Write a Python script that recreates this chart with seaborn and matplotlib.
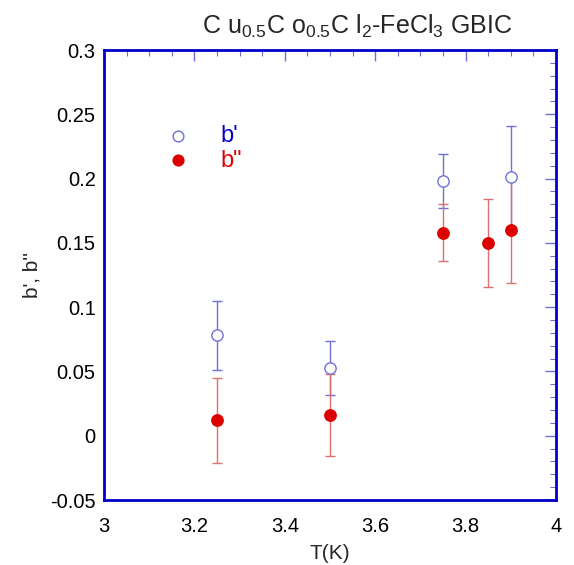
import matplotlib
matplotlib.use("Agg")
import matplotlib.pyplot as plt
from matplotlib.ticker import MultipleLocator
import seaborn as sns
import pandas as pd

T_b1 = [3.25, 3.5, 3.75, 3.9]
b1 = [0.078, 0.053, 0.198, 0.201]
b1_err = [0.027, 0.021, 0.021, 0.040]

T_b2 = [3.25, 3.5, 3.75, 3.85, 3.9]
b2 = [0.012, 0.016, 0.158, 0.150, 0.160]
b2_err = [0.033, 0.032, 0.022, 0.034, 0.041]

x_ticks = [3, 3.2, 3.4, 3.6, 3.8, 4]
y_ticks = [-0.05, 0, 0.05, 0.1, 0.15, 0.2, 0.25, 0.3]
y_labels = ["-0.05", "0", "0.05", "0.1", "0.15", "0.2", "0.25", "0.3"]

sns.set_style("white")
plt.rcParams['font.family'] = ['Liberation Sans', 'DejaVu Sans']
plt.rcParams['mathtext.fontset'] = 'custom'
plt.rcParams['mathtext.rm'] = 'Liberation Sans'
plt.rcParams['mathtext.it'] = 'Liberation Sans'

BLUE = '#0000cc'
LBLUE = '#7070d8'
RED = '#dd0000'
LRED = '#e07070'

df1 = pd.DataFrame({'T': T_b1, 'b': b1})
df2 = pd.DataFrame({'T': T_b2, 'b': b2})

fig = plt.figure(figsize=(5.74, 5.65), dpi=100)
ax = fig.add_axes([0.1812, 0.115, 0.7874, 0.7965])

ax.errorbar(T_b1, b1, yerr=b1_err, fmt='none', ecolor=LBLUE, elinewidth=1, capsize=3.6, capthick=1, zorder=2)
ax.errorbar(T_b2, b2, yerr=b2_err, fmt='none', ecolor=LRED, elinewidth=1, capsize=3.6, capthick=1, zorder=2)
sns.scatterplot(data=df1, x='T', y='b', ax=ax, marker='o', s=66, facecolor='white',
                edgecolor=LBLUE, linewidth=1, zorder=3, label="b'")
sns.scatterplot(data=df2, x='T', y='b', ax=ax, marker='o', s=85, color=RED,
                edgecolor=RED, linewidth=0, zorder=4, label='b"')

ax.set_xlim(3, 4)
ax.set_ylim(-0.05, 0.3)
ax.set_xticks(x_ticks)
ax.set_xticklabels([f"{v:g}" for v in x_ticks])
ax.set_yticks(y_ticks)
ax.set_yticklabels(y_labels)
ax.xaxis.set_minor_locator(MultipleLocator(0.05))
ax.yaxis.set_minor_locator(MultipleLocator(0.01))
ax.tick_params(which='both', direction='in', top=True, right=True, color=LBLUE,
               labelsize=14.5, labelcolor='black')
ax.tick_params(axis='y', which='major', pad=6)
ax.tick_params(axis='x', which='major', pad=12)
ax.tick_params(which='major', length=8, width=1)
ax.tick_params(which='minor', length=4, width=0.8)
for sp in ax.spines.values():
    sp.set_color(BLUE)
    sp.set_linewidth(2)

ax.set_xlabel('T(K)', fontsize=15, labelpad=6)
ax.set_ylabel("b', b''", fontsize=15, labelpad=6)
ax.set_title(r'C u$_{\mathregular{0.5}}$C o$_{\mathregular{0.5}}$C l$_{\mathregular{2}}$-FeCl$_{\mathregular{3}}$ GBIC',
             fontsize=18, pad=12, x=0.56)

leg = ax.legend(loc='upper left', bbox_to_anchor=(0.065, 0.88), frameon=False, fontsize=17,
                handletextpad=0.8, labelspacing=0.1, markerscale=0.95)
for txt, c in zip(leg.get_texts(), [BLUE, RED]):
    txt.set_color(c)

fig.savefig('out.png', dpi=100)
